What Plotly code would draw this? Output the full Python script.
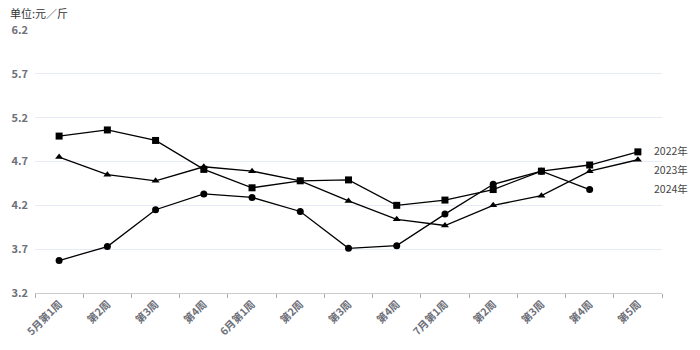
import plotly.graph_objects as go

categories = ["5月第1周", "第2周", "第3周", "第4周", "6月第1周", "第2周", "第3周",
              "第4周", "7月第1周", "第2周", "第3周", "第4周", "第5周"]
s2022 = [4.99, 5.06, 4.94, 4.61, 4.40, 4.48, 4.49, 4.20, 4.26, 4.38, 4.59, 4.66, 4.81]
s2023 = [4.75, 4.55, 4.48, 4.64, 4.59, 4.48, 4.25, 4.04, 3.97, 4.20, 4.31, 4.59, 4.72]
s2024 = [3.57, 3.73, 4.15, 4.33, 4.29, 4.13, 3.71, 3.74, 4.10, 4.44, 4.59, 4.38]
series = [("2022年", s2022, "square"), ("2023年", s2023, "triangle-up"), ("2024年", s2024, "circle")]
yticks = [3.2, 3.7, 4.2, 4.7, 5.2, 5.7, 6.2]

FONT = "Noto Sans CJK SC"
fig = go.Figure()
xs = list(range(len(categories)))
for name, vals, sym in series:
    fig.add_trace(go.Scatter(
        x=xs[:len(vals)], y=vals, mode="lines+markers", name=name,
        line=dict(color="#000000", width=1.3),
        marker=dict(symbol=sym, size=7, color="#000000"),
        showlegend=False, hoverinfo="y"))

# end labels, stacked below the 2022 line end
for i, (name, vals, sym) in enumerate(series):
    fig.add_annotation(x=len(categories) - 1, y=s2022[-1], xref="x", yref="y",
                       text=name, showarrow=False, xanchor="left", yanchor="middle",
                       xshift=14, yshift=-19 * i + 1,
                       font=dict(family=FONT, size=10.5, color="#444444"))

fig.add_annotation(x=0, y=1, xref="paper", yref="paper", xanchor="left", yanchor="top",
                   xshift=-27, yshift=27,
                   text="单位:元／斤", showarrow=False,
                   font=dict(family=FONT, size=11, color="#333333"))

fig.update_layout(
    width=700, height=350,
    margin=dict(l=35, r=38, t=30, b=57),
    paper_bgcolor="white", plot_bgcolor="white",
    font=dict(family=FONT),
)
fig.update_xaxes(
    range=[-0.5, len(categories) - 0.5],
    tickvals=xs, ticktext=categories, tickangle=-45,
    ticks="", showgrid=False, zeroline=False,
    showline=True, linecolor="#cccccc", linewidth=1,
    tickfont=dict(family=FONT, size=10.5, color="#6e7079", weight="bold"),
    minor=dict(ticks="outside", tick0=-0.5, dtick=1, ticklen=4, tickcolor="#aaaaaa", showgrid=False),
)
fig.update_yaxes(
    range=[3.2, 6.2], tickvals=yticks, ticktext=[f"{v:.1f}" for v in yticks],
    showgrid=True, gridcolor="#e6ebf5", gridwidth=1, zeroline=False, showline=False,
    ticks="", ticklabelstandoff=6,
    tickfont=dict(family=FONT, size=11, color="#6e7079", weight="bold"),
)
fig.write_html("out.html")
